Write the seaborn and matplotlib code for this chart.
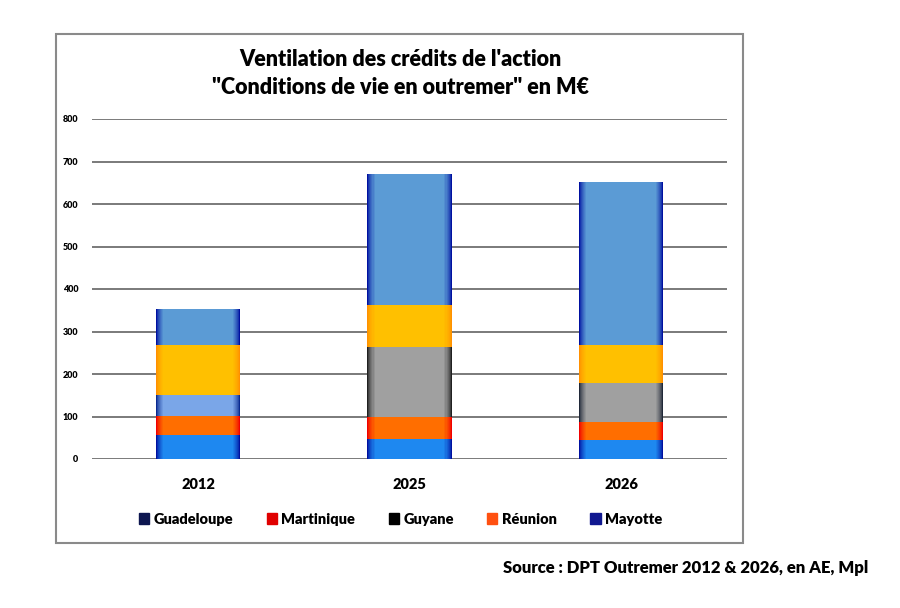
import matplotlib
matplotlib.use("Agg")
import matplotlib.pyplot as plt
from matplotlib.patches import Rectangle, Patch
from matplotlib.colors import to_rgb
import seaborn as sns
import numpy as np
import pandas as pd

years = ["2012", "2025", "2026"]
regions = ["Guadeloupe", "Martinique", "Guyane", "Réunion", "Mayotte"]
guadeloupe = [57, 48, 44]
martinique = [44, 51, 42]
guyane = [49, 165, 94]
reunion = [118, 98, 88]
mayotte = [85, 309, 384]
yticks = [0, 100, 200, 300, 400, 500, 600, 700, 800]

series = [guadeloupe, martinique, guyane, reunion, mayotte]
# (outer edge, inner fill) colours per segment and per year
seg_colors = [
    [("#0010a0", "#1e88f0")] * 3,
    [("#f00000", "#ff6e00")] * 3,
    [("#0a2a90", "#7aa6e8"),
     ("#202020", "#a0a0a0"),
     ("#202838", "#a0a0a0")],
    [("#ff9000", "#ffc000")] * 3,
    [("#0010a0", "#5b9bd5")] * 3,
]
legend_colors = ["#0d1650", "#e00000", "#000000", "#ff5010", "#101890"]

sns.set_theme(style="white")
plt.rcParams["font.family"] = ["Lato", "DejaVu Sans"]
plt.rcParams["text.color"] = "black"
plt.rcParams["xtick.color"] = "black"
plt.rcParams["ytick.color"] = "black"

fig = plt.figure(figsize=(9, 6.08), dpi=100)
ax = fig.add_axes([92.25 / 900, 1 - 459 / 608, 634.5 / 900, 340 / 608])

cum = np.cumsum(np.array(series), axis=0)
widths = np.linspace(0.40, 0.33, 8)
for k in range(len(series) - 1, -1, -1):
    for j, w in enumerate(widths):
        t = (j / (len(widths) - 1)) ** 0.7
        df = pd.DataFrame({"year": years, "value": cum[k]})
        pal = {}
        for i, y in enumerate(years):
            c0 = np.array(to_rgb(seg_colors[k][i][0]))
            c1 = np.array(to_rgb(seg_colors[k][i][1]))
            pal[y] = tuple(c0 + (c1 - c0) * t)
        sns.barplot(data=df, x="year", y="value", hue="year", palette=pal,
                    width=w, ax=ax, legend=False, saturation=1,
                    linewidth=0, zorder=3)

ax.set_xlim(-0.5, 2.5)
ax.set_ylim(0, 800)
ax.set_yticks(yticks)
ax.set_yticklabels([str(t) for t in yticks], fontsize=6.5, fontweight="heavy")
ax.tick_params(axis="y", length=0, pad=10)
ax.tick_params(axis="x", length=0, pad=14, labelsize=10.5)
for lab in ax.get_xticklabels():
    lab.set_fontweight("heavy")
ax.set_xlabel("")
ax.set_ylabel("")
ax.yaxis.grid(True, color="#7a7a7a", linewidth=1.4, zorder=0)
ax.set_axisbelow(True)
for s in ax.spines.values():
    s.set_visible(False)

fig.text(0.445, 1 - 60 / 608, "Ventilation des crédits de l'action",
         ha="center", va="center", fontsize=15.5, fontweight="heavy")
fig.text(0.445, 1 - 88 / 608, "\"Conditions de vie en outremer\" en M€",
         ha="center", va="center", fontsize=15.5, fontweight="heavy")

handles = [Patch(facecolor=c, edgecolor=c) for c in legend_colors]
fig.legend(handles, regions, loc="center", bbox_to_anchor=(0.445, 1 - 519 / 608),
           ncol=5, frameon=False, prop={"weight": "heavy", "size": 10.5},
           handlelength=0.7, handleheight=0.7, handletextpad=0.3,
           columnspacing=2.3)

fig.patches.append(Rectangle((55.7 / 900, 1 - 543 / 608), 687 / 900, 509 / 608,
                             transform=fig.transFigure, fill=False,
                             edgecolor="#8a8a8a", linewidth=1.5))

fig.text(868 / 900, 1 - 568 / 608, "Source : DPT Outremer 2012 & 2026, en AE, Mpl",
         ha="right", va="center", fontsize=12, fontweight="heavy")

fig.savefig("out.png", dpi=100)
